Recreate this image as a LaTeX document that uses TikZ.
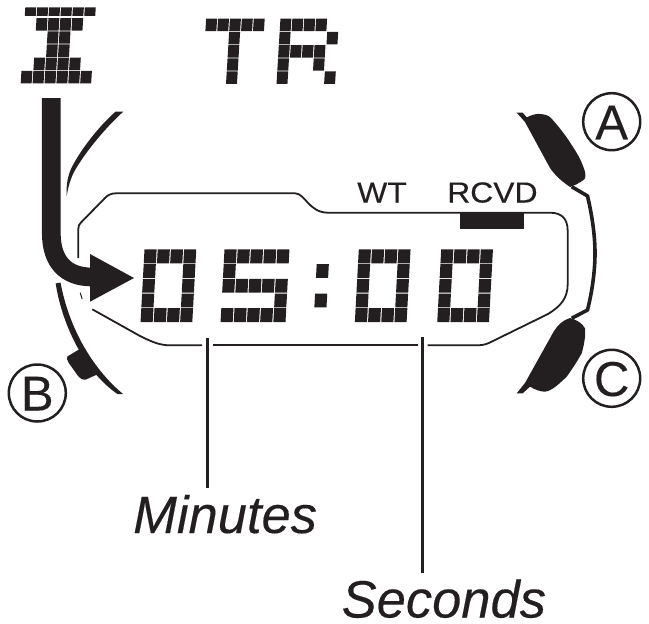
\documentclass[tikz,border=0pt]{standalone}
\usepackage{fontspec}
\setmainfont{Liberation Sans}[FakeBold=0.25]
\definecolor{inkc}{HTML}{231F20}
\newcommand\cells[1]{\foreach \c/\r in {#1}{\fill[inkc] (\c+.04,\r+.03) -- (\c+.96,\r+.03) -- (\c+.96,\r+.97) -- (\c+.04,\r+.97) -- cycle;}}
\newcommand\topcells[1]{\foreach \c in {#1}{\fill[inkc] (\c+.04,.21) -- (\c+.96,.21) -- (\c+.96,.87) -- (\c+.04,.87) -- cycle;}}
\tikzset{
  lcdgrid/.style={x={(13.2pt,0pt)},y={(-.8pt,-14.7pt)}},
  bannergrid/.style={x={(11.9pt,0pt)},y={(-.8pt,-13.2pt)}},
  outline/.style={draw=inkc,line width=1.8pt,line join=round},
  leader/.style={draw=inkc,line width=2.3pt},
  casing/.style={draw=inkc,line width=3.6pt,line join=round},
  ink/.style={fill=inkc,draw=none},
  callout/.style={circle,draw=inkc,line width=2.5pt,minimum size=57pt,inner sep=0pt},
  calloutletter/.style={inner sep=0pt,anchor=base,text=inkc,font=\fontsize{49}{50}\selectfont},
  lcdlabel/.style={inner sep=0pt,anchor=base west,text=inkc,xscale=1.1,font=\fontsize{29}{30}\selectfont},
  caption/.style={inner sep=0pt,anchor=base west,text=inkc,font=\itshape\fontsize{52.5}{54}\selectfont}
}
\begin{document}
\begin{tikzpicture}[x=1pt,y=-1pt]
\useasboundingbox (0,0) rectangle (649,624);
% banner glyphs
\begin{scope}[shift={(25,4.5)},bannergrid]
  \topcells{0,1,2,3,4,5}
  \cells{1/1,2/1,3/1,4/1,2/2,3/2,2/3,3/3,1/4,2/4,3/4,4/4,0/5,1/5,2/5,3/5,4/5,5/5}
\end{scope}
\begin{scope}[shift={(205.7,18.3)},bannergrid]
  \cells{0/0,1/0,2/0,3/0,4/0,2/1,2/2,2/3,2/4}
\end{scope}
\begin{scope}[shift={(280,18.3)},bannergrid]
  \cells{0/0,1/0,2/0,3/0,0/1,4/1,0/2,1/2,2/2,3/2,0/3,3/3,0/4,4/4}
\end{scope}
% lcd digits
\begin{scope}[shift={(144,249)},lcdgrid]
  \cells{0/0,1/0,2/0,3/0,0/1,3/1,0/2,3/2,0/3,3/3,0/4,1/4,2/4,3/4}
\end{scope}
\begin{scope}[shift={(224,249)},lcdgrid]
  \cells{0/0,1/0,2/0,3/0,4/0,0/1,0/2,1/2,2/2,3/2,4/2,4/3,0/4,1/4,2/4,3/4,4/4}
\end{scope}
\begin{scope}[shift={(317,249)},lcdgrid]
  \cells{0/1,0/3}
\end{scope}
\begin{scope}[shift={(358.3,249)},lcdgrid]
  \cells{0/0,1/0,2/0,3/0,0/1,3/1,0/2,3/2,0/3,3/3,0/4,1/4,2/4,3/4}
\end{scope}
\begin{scope}[shift={(440.7,249)},lcdgrid]
  \cells{0/0,1/0,2/0,3/0,0/1,3/1,0/2,3/2,0/3,3/3,0/4,1/4,2/4,3/4}
\end{scope}
% lcd outline (broken around the arrow and the two leaders)
\draw[outline] (78.3,258) -- (78.3,229) .. controls (78.3,226) and (79,224.5) .. (81,222.5)
  -- (105,198) .. controls (108,195) and (111,193.3) .. (116,193.3)
  -- (295,193.3) .. controls (305,193.3) and (309,212.7) .. (328,212.7)
  -- (550,212.7) .. controls (562,212.7) and (567.7,219) .. (567.7,231)
  -- (567.7,284) .. controls (567.7,298) and (561,306) .. (548,314)
  -- (492,341.5) .. controls (488,343.5) and (484,345.3) .. (478,345.3)
  -- (427.5,345.3);
\draw[outline] (418,345.3) -- (213,345.3);
\draw[outline] (202,345.3) -- (170,345.3) .. controls (160,345.3) and (152,342) .. (140,336)
  -- (92.3,309.3);
\draw[draw=inkc,line width=1pt] (80.2,292.7) -- (82.2,299);
\fill[inkc] (460,212.7) rectangle (524,229);
% case arcs
\fill[ink] (123.3,111.7) .. controls (108,125) and (85,152) .. (74,172) .. controls (70,180) and (68,188) .. (66.7,196) .. controls (66,184) and (68,176) .. (71,169) .. controls (79,152) and (98,127) .. (115.5,111.7) -- cycle;
\fill[ink] (55.7,283.5) .. controls (62,325) and (85,372) .. (117.5,394) -- (123,394) .. controls (92,368) and (69,328) .. (60.5,282.5) -- cycle;
\fill[ink] (67.3,356.5) -- (79.3,349.3) .. controls (85,358) and (91,366) .. (98.3,374) -- (86,379.5) .. controls (82,380) and (80,378.5) .. (78,376) -- (68.5,362.5) .. controls (67,360.5) and (66.8,358) .. (67.3,356.5) -- cycle;
% arrow
\draw[draw=inkc,line width=18.7pt] (51.3,98) -- (51.3,233) .. controls (51.3,262) and (66,277) .. (92,277);
\fill[inkc] (90,254) -- (134,278) -- (90,301.7) -- cycle;
% right buttons
\draw[casing] (571.7,186.7) -- (587.5,196) .. controls (592,215) and (595,235) .. (595,253) .. controls (595,272) and (592,292) .. (587.5,310) -- (571.7,318.3);
\fill[ink] (516.7,112.7) -- (522.7,112.7) -- (526.7,117.3) .. controls (532,115) and (536,113.5) .. (540,114) .. controls (545,114.5) and (548,115) .. (551,118) .. controls (560,128) and (566,136) .. (571.7,145) .. controls (577,153) and (581,160) .. (583.3,166.7) .. controls (585,171) and (586,175) .. (585,178.3) .. controls (582,182) and (578,183) .. (576.7,184.3) -- (570,187) .. controls (560,180) and (555,175) .. (550,168) -- (525,122) -- cycle;
\fill[ink] (516.7,393.3) -- (522.7,393.3) -- (530,386.7) .. controls (535,389.5) and (540,391.7) .. (545,391.7) .. controls (552,391) and (560,383) .. (566.7,376.7) .. controls (573,368) and (578,360) .. (581.7,353.3) .. controls (584,345) and (586,335) .. (585,328.3) .. controls (582,323) and (577,320) .. (570,318) .. controls (563,320) and (558,325) .. (554,331) -- (525,383) -- cycle;
% labels
\node[lcdlabel] (wt) at (357,202.5) {WT};
\node[lcdlabel] (rcvd) at (447,202.5) {RCVD};
\node[callout] (circA) at (611.7,121.7) {};
\node[callout] (circB) at (37.3,393) {};
\node[callout] (circC) at (611.7,378.3) {};
\node[calloutletter] (letA) at (611.7,139.3) {A};
\node[calloutletter] (letB) at (37.3,410.5) {B};
\node[calloutletter] (letC) at (611.7,396) {C};
\node[caption] (minutes) at (133,533) {Minutes};
\node[caption] (seconds) at (341.5,617.5) {Seconds};
\coordinate (mtop) at (207.5,338);
\coordinate (mbot) at (207.5,487.5);
\coordinate (stop) at (422.5,337);
\coordinate (sbot) at (422.5,573);
\draw[leader] (mtop) -- (mbot);
\draw[leader] (stop) -- (sbot);
\end{tikzpicture}
\end{document}
